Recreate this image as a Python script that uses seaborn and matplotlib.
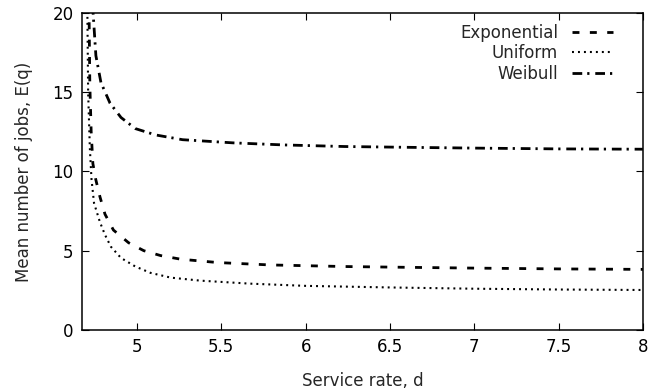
import matplotlib
matplotlib.use("Agg")
import matplotlib.pyplot as plt
import pandas as pd
import seaborn as sns

# ── Data ─────────────────────────────────────────────────────────────
d_exp = [4.715, 4.72, 4.728, 4.738, 4.755, 4.78, 4.81, 4.86, 4.95, 5.04,
         5.14, 5.26, 5.48, 5.79, 6.23, 6.6, 7.0, 7.5, 8.0]
q_exp = [20.5, 15.5, 12.5, 10.5, 9.5, 8.4, 7.3, 6.3, 5.5, 5.0,
         4.69, 4.46, 4.25, 4.1, 4.0, 3.95, 3.9, 3.85, 3.82]

d_uni = [4.705, 4.71, 4.72, 4.73, 4.745, 4.78, 4.81, 4.845, 4.905, 4.99,
         5.08, 5.2, 5.375, 5.67, 6.0, 6.5, 7.0, 7.5, 8.0]
q_uni = [20.5, 15.0, 11.5, 9.5, 8.0, 6.8, 6.0, 5.25, 4.54, 4.0,
         3.6, 3.3, 3.11, 2.92, 2.78, 2.68, 2.6, 2.55, 2.52]

d_wei = [4.735, 4.74, 4.756, 4.786, 4.84, 4.905, 4.99, 5.11, 5.27, 5.57,
         5.87, 6.23, 6.6, 7.0, 7.5, 8.0]
q_wei = [20.5, 19.9, 17.3, 15.6, 14.3, 13.4, 12.7, 12.3, 12.0, 11.8,
         11.67, 11.57, 11.52, 11.47, 11.42, 11.4]

labels = ["Exponential", "Uniform", "Weibull"]
x_ticks = [5, 5.5, 6, 6.5, 7, 7.5, 8]
x_ticklabels = ["5", "5.5", "6", "6.5", "7", "7.5", "8"]
y_ticks = [0, 5, 10, 15, 20]

# ── Style ────────────────────────────────────────────────────────────
sns.set_style("ticks")
plt.rcParams["font.family"] = ["DejaVu Sans"]
plt.rcParams["lines.scale_dashes"] = False

STYLES = {
    "Exponential": (0, (5.0, 7.5)),
    "Uniform":     (0, (1.4, 2.9)),
    "Weibull":     (0, (7.0, 3.6, 1.6, 4.2)),
}
WIDTHS = {"Exponential": 2.0, "Uniform": 1.5, "Weibull": 2.0}
FS = 12

fig = plt.figure(figsize=(6.5, 3.9), dpi=100)
ax = fig.add_axes([0.126, 0.154, 0.863, 0.813])

series = [(d_exp, q_exp), (d_uni, q_uni), (d_wei, q_wei)]
for name, (d, q) in zip(labels, series):
    df = pd.DataFrame({"d": d, "q": q})
    sns.lineplot(data=df, x="d", y="q", ax=ax, color="black",
                 lw=WIDTHS[name], linestyle=STYLES[name], label=name,
                 sort=False)

ax.set_xlim(4.673, 8.0)
ax.set_ylim(0, 20)
ax.set_xticks(x_ticks)
ax.set_xticklabels(x_ticklabels)
ax.set_yticks(y_ticks)
ax.tick_params(direction="in", length=5, width=0.8, top=True, right=True,
               labelsize=FS, pad=6, colors="black")
for s in ax.spines.values():
    s.set_linewidth(1.1)
    s.set_color("black")

ax.set_xlabel("Service rate, d", fontsize=FS, labelpad=11)
ax.set_ylabel("Mean number of jobs, E(q)", fontsize=FS, labelpad=14)

ax.legend(loc="upper right", markerfirst=False, frameon=False,
          fontsize=FS, handlelength=2.5, handletextpad=0.8,
          labelspacing=0.15, borderaxespad=0.0,
          bbox_to_anchor=(0.959, 0.987))

fig.savefig("out.png", dpi=100, facecolor="white")
